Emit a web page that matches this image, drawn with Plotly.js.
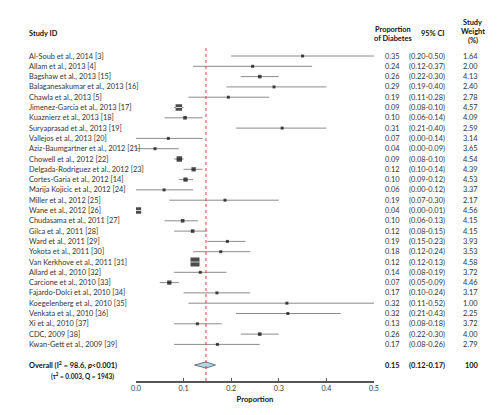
<!DOCTYPE html>
<html><head><meta charset="utf-8">
<script src="https://cdn.plot.ly/plotly-3.0.1.min.js"></script>
<style>html,body{margin:0;padding:0;background:#fff}#chart{width:500px;height:415px}</style>
</head><body><div id="chart"></div>
<script>
// ---- data ----
var studies = ["Al-Soub et al., 2014 [3]","Allam et al., 2013 [4]","Bagshaw et al., 2013 [15]","Balaganesakumar et al., 2013 [16]","Chawla et al., 2013 [5]","Jimenez-Garcia et al., 2013 [17]","Kuaznierz et al., 2013 [18]","Suryaprasad et al., 2013 [19]","Vallejos et al., 2013 [20]","Aziz-Baumgartner et al., 2012 [21]","Chowell et al., 2012 [22]","Delgada-Rodriguez et al., 2012 [23]","Cortes-Garia et al., 2012 [14]","Marija Kojicic et al., 2012 [24]","Miller et al., 2012 [25]","Wane et al., 2012 [26]","Chudasama et al., 2011 [27]","Gilca et al., 2011 [28]","Ward et al., 2011 [29]","Yokota et al., 2011 [30]","Van Kerkhove et al., 2011 [31]","Allard et al., 2010 [32]","Carcione et al., 2010 [33]","Fajardo-Dolci et al., 2010 [34]","Koegelenberg et al., 2010 [35]","Venkata et al., 2010 [36]","Xi et al., 2010 [37]","CDC, 2009 [38]","Kwan-Gett et al., 2009 [39]"];
var proportion = [0.35,0.24,0.26,0.29,0.19,0.09,0.10,0.31,0.07,0.04,0.09,0.12,0.10,0.06,0.19,0.04,0.10,0.12,0.19,0.18,0.12,0.14,0.07,0.17,0.32,0.32,0.13,0.26,0.17];
var plotted = [0.35,0.245,0.26,0.29,0.194,0.09,0.103,0.307,0.068,0.04,0.091,0.121,0.104,0.059,0.187,0.004,0.098,0.119,0.192,0.178,0.124,0.135,0.07,0.17,0.317,0.319,0.129,0.26,0.171];
var ciLow = [0.20,0.12,0.22,0.19,0.11,0.08,0.06,0.21,0.00,0.00,0.08,0.10,0.09,0.00,0.07,0.00,0.06,0.08,0.15,0.12,0.12,0.08,0.05,0.10,0.11,0.21,0.08,0.22,0.08];
var ciHigh = [0.50,0.37,0.30,0.40,0.28,0.10,0.14,0.40,0.14,0.09,0.10,0.14,0.12,0.12,0.30,0.01,0.13,0.15,0.23,0.24,0.13,0.19,0.09,0.24,0.52,0.43,0.18,0.30,0.26];
var weights = [1.64,2.00,4.13,2.40,2.78,4.57,4.09,2.59,3.14,3.65,4.54,4.39,4.53,3.37,2.17,4.56,4.15,4.15,3.93,3.53,4.58,3.72,4.46,3.17,1.00,2.25,3.72,4.00,2.79];
var overallProp = 0.15, overallPlotted = 0.147, overallLow = 0.12, overallHigh = 0.17, overallWeight = 100;
var overallLabel = "Overall (I<sup>2</sup> = 98.6, <i>p</i><0.001)";
var overallStats = "(τ<sup>2</sup> = 0.003, Q = 1943)";
var headers = {study: "Study ID", prop: ["Proportion", "of Diabetes"], ci: "95% CI", weight: ["Study", "Weight", "(%)"]};
var tickVals = [0,0.1,0.2,0.3,0.4,0.5];

// ---- layout helpers ----
var L = 135.7, R = 374, T = 46.7, B = 380.7;
function px(p){ return (p - L) / (R - L); }   // paper x from pixel
function py(p){ return (B - p) / (B - T); }   // paper y from pixel
var FONT = "Lato, 'Liberation Sans', sans-serif";
var txtCol = "#333";
var n = studies.length;
var rows = studies.map(function(_, i){ return i; });
var overallRow = n + 1;

function msize(w){
  if (w >= 4.575) return 9;
  if (w >= 4.555) return 6.5;
  if (w >= 4.54) return 5.5;
  if (w >= 4.3) return 4.3;
  if (w >= 3.95) return 3.6;
  return 3;
}

var traces = [];
traces.push({
  type: "scatter", mode: "markers", x: plotted, y: rows,
  marker: {symbol: "square", color: "#000", size: weights.map(msize), line: {width: 0}},
  error_x: {type: "data", symmetric: false,
    array: plotted.map(function(v, i){ return ciHigh[i] - v; }),
    arrayminus: plotted.map(function(v, i){ return v - ciLow[i]; }),
    color: "#8a8a8a", thickness: 1, width: 0},
  hoverinfo: "skip", showlegend: false
});
var bx = [], by = [];
weights.forEach(function(w, i){
  if (w >= 4.555) { var h = msize(w) / 2 / (R - L) * 0.5; bx.push(plotted[i] - h, plotted[i] + h, null); by.push(i, i, null); }
});
traces.push({type: "scatter", mode: "lines", x: bx, y: by, line: {color: "#d8d8d8", width: 1}, hoverinfo: "skip", showlegend: false});
var dh = 0.3;
traces.push({
  type: "scatter", mode: "lines", fill: "toself",
  x: [overallLow + 0.003, overallPlotted, overallHigh - 0.003, overallPlotted, overallLow + 0.003],
  y: [overallRow, overallRow - dh, overallRow, overallRow + dh, overallRow],
  fillcolor: "#a9dbe8", line: {color: "#555", width: 0.8}, hoverinfo: "skip", showlegend: false
});

var FS = 7.4;
var ann = [];
function add(x, y, text, opts){
  var a = {x: x, y: y, xref: "paper", yref: "y", text: text, showarrow: false,
    xanchor: "center", yanchor: "middle", font: {family: FONT, size: FS, color: txtCol}};
  for (var k in opts) a[k] = opts[k];
  ann.push(a);
}
studies.forEach(function(s, i){
  add(px(27), i, s, {xanchor: "left"});
  add(px(393), i, proportion[i].toFixed(2));
  add(px(427), i, "(" + ciLow[i].toFixed(2) + "-" + ciHigh[i].toFixed(2) + ")");
  add(px(471), i, weights[i].toFixed(2));
});
var bold = {family: FONT, size: FS, color: "#111"};
function yOf(p){ return (p - 55.7) / 10.3; }
function head(xp, yp, text, anchor){
  ann.push({x: px(xp), y: py(yp), xref: "paper", yref: "paper", text: "<b>" + text + "</b>", showarrow: false,
    xanchor: anchor || "center", yanchor: "middle", font: bold});
}
head(27, 33, headers.study, "left");
head(393, 29, headers.prop[0]);
head(393, 38, headers.prop[1]);
head(433, 33, headers.ci);
head(473, 22, headers.weight[0]);
head(473, 31, headers.weight[1]);
head(473, 40, headers.weight[2]);
add(px(27), overallRow, "<b>" + overallLabel + "</b>", {xanchor: "left", font: bold});
add(px(49), yOf(376), "<b>" + overallStats + "</b>", {xanchor: "left", font: {family: FONT, size: 6.5, color: "#111"}});
add(px(393), overallRow, "<b>" + overallProp.toFixed(2) + "</b>", {font: bold});
add(px(427), overallRow, "<b>(" + overallLow.toFixed(2) + "-" + overallHigh.toFixed(2) + ")</b>", {font: bold});
add(px(472), overallRow, "<b>" + overallWeight + "</b>", {font: bold});

var layout = {
  width: 500, height: 415,
  margin: {l: L, r: 500 - R, t: T, b: 415 - B, pad: 0},
  paper_bgcolor: "#fff", plot_bgcolor: "#fff",
  xaxis: {range: [0, 0.5], tickvals: tickVals, tickformat: ".1f", ticks: "inside", ticklen: 3,
    tickcolor: "#555", showline: true, linecolor: "#555", linewidth: 1.5, showgrid: false, zeroline: false,
    tickfont: {family: FONT, size: 7.2, color: txtCol},
    title: {text: "<b>Proportion</b>", font: {family: FONT, size: 7.6, color: "#111"}, standoff: 4}},
  yaxis: {range: [(B - 55.7) / 10.3, (T - 55.7) / 10.3], visible: false, showgrid: false, zeroline: false},
  shapes: [{type: "line", xref: "x", yref: "paper", x0: overallPlotted, x1: overallPlotted, y0: 0, y1: 1,
    line: {color: "#e0383a", width: 1, dash: "dot"}, layer: "above"}],
  annotations: ann,
  showlegend: false
};
Plotly.newPlot("chart", traces, layout, {displayModeBar: false, staticPlot: true});
</script></body></html>
